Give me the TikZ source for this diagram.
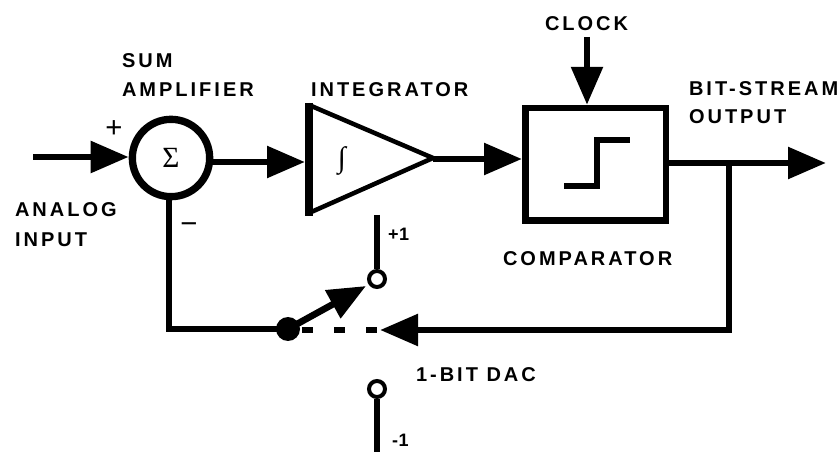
\documentclass[tikz,border=0pt]{standalone}
\usepackage{fontspec}
\setmainfont{Liberation Sans}
\newfontfamily\lblfont[LetterSpace=15]{Liberation Sans Bold}
\newfontfamily\smallfont[LetterSpace=3]{Liberation Sans Bold}
\newfontfamily\symfont{Liberation Serif}
\usetikzlibrary{arrows.meta}
\tikzset{
  x=0.75pt,y=-0.75pt,
  wire/.style={line width=5pt,line cap=butt,line join=miter},
  flow/.style={wire,-{Triangle[length=28.5pt,width=23pt]}},
  lbl/.style={anchor=base west,inner sep=0pt,outer sep=0pt,font=\lblfont\fontsize{15}{17}\selectfont},
  smalllbl/.style={anchor=base west,inner sep=0pt,outer sep=0pt,font=\smallfont\fontsize{13.5}{14}\selectfont},
  sign/.style={inner sep=0pt,font=\fontsize{22}{24}\selectfont},
  contact/.style={circle,draw,line width=3pt,fill=white,minimum size=12pt,inner sep=0pt},
}
\begin{document}
\begin{tikzpicture}
\useasboundingbox (0,0) rectangle (839,452);
% nodes
\node[circle,draw,line width=5.5pt,minimum size=58pt,inner sep=0pt,font=\symfont\fontsize{22}{24}\selectfont] (sum) at (171,158) {Σ};
\coordinate (tl) at (309,105);
\coordinate (bl) at (309,213);
\coordinate (tip) at (433,158);
\draw[line width=3.4pt,line join=miter] (tl) -- (tip) -- (bl);
\draw[line width=5.5pt,line cap=butt] (tl) ++(0,-2) coordinate (tla) -- (bl |- 0,216);
\node[inner sep=0pt,font=\symfont\fontsize{22}{24}\selectfont] (int) at (342,161) {∫};
\node[draw,line width=5pt,minimum width=105.5pt,minimum height=84.5pt,inner sep=0pt] (cmp) at (595.5,164.5) {};
\coordinate (s1) at (564,186);
\coordinate (s2) at (597,186);
\coordinate (s3) at (597,140);
\coordinate (s4) at (630,140);
\draw[wire] (s1) -- (s2) -- (s3) -- (s4);
\node[contact] (up) at (377,279) {};
\node[contact] (dn) at (377,389) {};
\node[circle,fill=black,minimum size=18pt,inner sep=0pt,outer sep=0pt] (pole) at (288,329) {};
% free ends and junctions
\coordinate (in) at (33,157);
\coordinate (intin) at (305,162);
\coordinate (intout) at (522,159);
\coordinate (clk) at (587,37);
\coordinate (outpt) at (826,163);
\coordinate (tap) at (729,163);
\coordinate (fb) at (729,330);
\coordinate (fbend) at (380,330);
\coordinate (corner) at (169,329);
\coordinate (swtip) at (366,286);
\coordinate (plus) at (377,215);
\coordinate (minus) at (377,452);
% connectors
\draw[flow] (in) -- (sum.west |- in);
\draw[flow] (intin -| sum.east) -- (intin);
\draw[flow] (tip |- intout) -- (intout);
\draw[flow] (clk) -- (clk |- cmp.north);
\draw[flow] (tap -| cmp.east) -- (outpt);
\draw[flow] (tap) -- (fb) -- (fbend);
\draw[wire] (corner |- sum.south) -- (corner) -- (pole.center);
\draw[flow] (pole.center) -- (swtip);
\draw[wire,dash pattern=on 8.25pt off 15.75pt] (pole.east |- fb) ++(2,0) coordinate (d0) -- (fbend);
\draw[wire] (plus) -- (up.north);
\draw[wire] (dn.south) -- (minus);
% labels
\node[lbl] (t1) at (122,68) {SUM};
\node[lbl] (t2) at (122,97) {AMPLIFIER};
\node[lbl] (t3) at (15,217) {ANALOG};
\node[lbl] (t4) at (15,247) {INPUT};
\node[lbl] (t5) at (311,97) {INTEGRATOR};
\node[lbl] (t6) at (545,31) {CLOCK};
\node[lbl] (t7) at (689,96) {BIT-STREAM};
\node[lbl] (t8) at (689,124) {OUTPUT};
\node[lbl] (t9) at (503,266) {COMPARATOR};
\node[lbl] (t10) at (416,381) {1-BIT DAC};
\node[smalllbl] (t11) at (388,241) {+1};
\node[smalllbl] (t12) at (392,446) {-1};
\node[sign] (p) at (114,129) {+};
\node[sign] (m) at (189,228) {\textminus};
\end{tikzpicture}
\end{document}
